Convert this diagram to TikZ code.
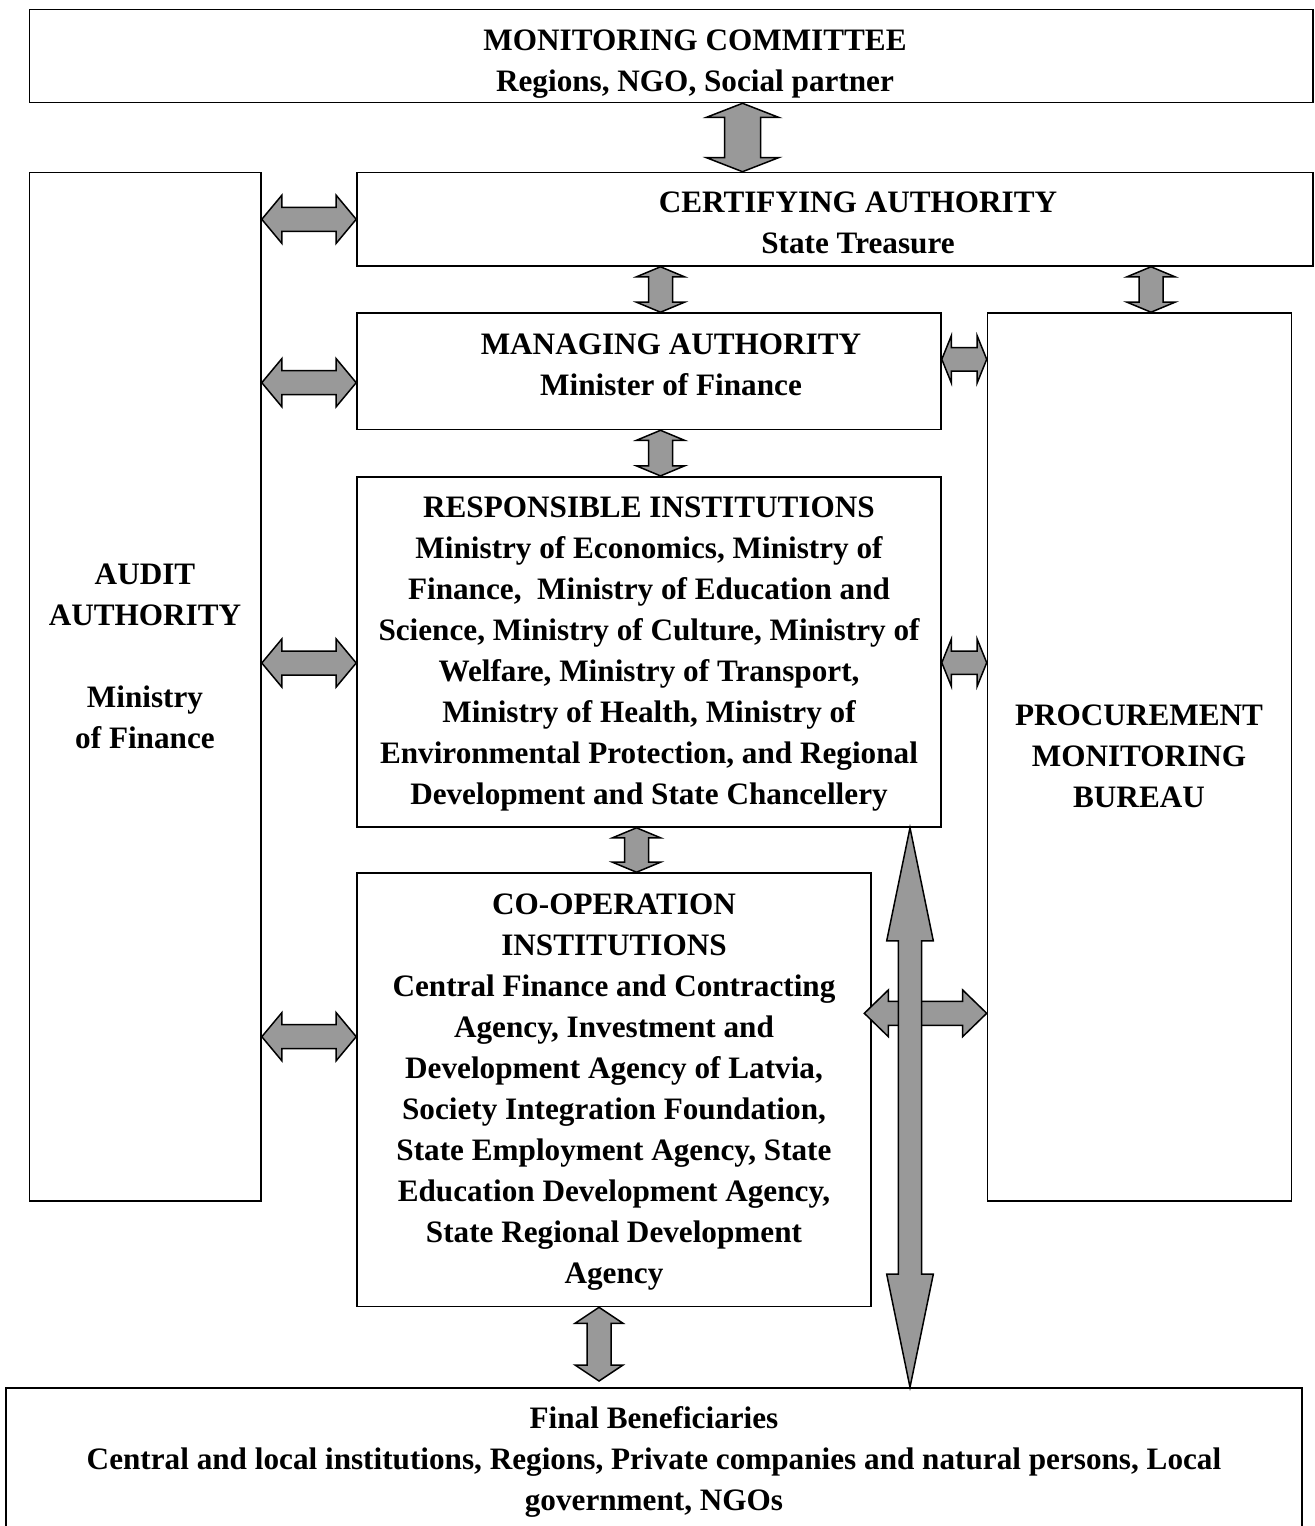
\documentclass[tikz,border=0pt]{standalone}
\usepackage{fontspec}
\setmainfont{Liberation Serif}
\usetikzlibrary{calc}
\definecolor{arrgray}{RGB}{153,153,153}

\begin{document}
\begin{tikzpicture}[x=0.5pt, y=-0.5pt,
	box/.style={draw, line width=0.8pt, inner sep=0pt},
	txt/.style={align=center, inner sep=0pt, font=\bfseries\fontsize{15.6pt}{20.5pt}\selectfont},
	blk/.style={draw, fill=arrgray, line width=0.75pt, line join=miter},
	vblk/.style n args={3}{blk, to path={-- ($(\tikztostart)+(#1,#3)$) -- ($(\tikztostart)+(#2,#3)$) -- ($(\tikztotarget)+(#2,-#3)$) -- ($(\tikztotarget)+(#1,-#3)$) -- (\tikztotarget) -- ($(\tikztotarget)+(-#1,-#3)$) -- ($(\tikztotarget)+(-#2,-#3)$) -- ($(\tikztostart)+(-#2,#3)$) -- ($(\tikztostart)+(-#1,#3)$) -- cycle}},
	hblk/.style n args={3}{blk, to path={-- ($(\tikztostart)+(#3,-#1)$) -- ($(\tikztostart)+(#3,-#2)$) -- ($(\tikztotarget)+(-#3,-#2)$) -- ($(\tikztotarget)+(-#3,-#1)$) -- (\tikztotarget) -- ($(\tikztotarget)+(-#3,#1)$) -- ($(\tikztotarget)+(-#3,#2)$) -- ($(\tikztostart)+(#3,#2)$) -- ($(\tikztostart)+(#3,#1)$) -- cycle}}]

		\useasboundingbox (0,0) rectangle (1314,1526);
		\clip (0,0) rectangle (1314,1526);

		\node [box, minimum width=641.75pt, minimum height=46.5pt] (0) at (671.25, 56) {};
		\node [box, minimum width=115.75pt, minimum height=514.1pt] (1) at (145.25, 686.6) {};
		\node [box, minimum width=478pt, minimum height=46.75pt] (2) at (835, 219.25) {};
		\node [box, minimum width=292pt, minimum height=58.25pt] (3) at (649, 371.25) {};
		\node [box, minimum width=152pt, minimum height=444pt] (4) at (1139.5, 757) {};
		\node [box, minimum width=292pt, minimum height=175.15pt] (5) at (649, 651.85) {};
		\node [box, minimum width=257pt, minimum height=216.75pt] (6) at (614, 1089.75) {};
		\node [box, minimum width=648pt, minimum height=71pt] (7) at (654, 1459) {};
		\node [txt] (9) at (695, 64) {MONITORING COMMITTEE\\Regions, NGO, Social partner};
		\node [txt] (10) at (145, 656) {AUDIT\\AUTHORITY\\[20.5pt]Ministry\\of Finance};
		\node [txt] (11) at (858, 223) {CERTIFYING AUTHORITY\\State Treasure};
		\node [txt] (12) at (671, 364.5) {MANAGING AUTHORITY\\Minister of Finance};
		\node [txt] (13) at (1139, 756) {PROCUREMENT\\MONITORING\\BUREAU};
		\node [txt] (14) at (649, 654) {RESPONSIBLE INSTITUTIONS\\Ministry of Economics, Ministry of\\Finance,~ Ministry of Education and\\Science, Ministry of Culture, Ministry of\\Welfare, Ministry of Transport,\\Ministry of Health, Ministry of\\Environmental Protection, and Regional\\Development and State Chancellery};
		\node [txt] (15) at (614, 1092) {CO-OPERATION\\INSTITUTIONS\\Central Finance and Contracting\\Agency, Investment and\\Development Agency of Latvia,\\Society Integration Foundation,\\State Employment Agency, State\\Education Development Agency,\\State Regional Development\\Agency};
		\node [txt] (16) at (654, 1462) {Final Beneficiaries\\Central and local institutions, Regions, Private companies and natural persons, Local\\government, NGOs};
		\coordinate (17) at (864.3, 1013.3);
		\coordinate (18) at (599, 1381);

		\draw [vblk={36}{18}{14}] (0.south -| 742.5,0) to (2.north -| 742.5,0);
		\draw [vblk={24}{12}{10}] (2.south -| 660.5,0) to (3.north -| 660.5,0);
		\draw [vblk={24}{12}{10}] (2.south -| 1151,0) to (4.north -| 1151,0);
		\draw [vblk={24}{12}{10}] (3.south -| 660.5,0) to (5.north -| 660.5,0);
		\draw [vblk={24}{12}{10}] (5.south -| 636.5,0) to (6.north -| 636.5,0);
		\draw [vblk={24}{12}{16}] (6.south -| 599,0) to (18);
		\draw [hblk={24}{12}{20}] (1.east |- 0,219.3) to (2.west |- 0,219.3);
		\draw [hblk={24}{12}{20}] (1.east |- 0,382.7) to (3.west |- 0,382.7);
		\draw [hblk={24}{12}{20}] (1.east |- 0,663) to (5.west |- 0,663);
		\draw [hblk={24}{12}{20}] (1.east |- 0,1036.7) to (6.west |- 0,1036.7);
		\draw [hblk={23.5}{11.7}{9.5}] (3.east |- 0,359.3) to (4.west |- 0,359.3);
		\draw [hblk={23.5}{11.7}{9.5}] (5.east |- 0,662.7) to (4.west |- 0,662.7);
		\draw [hblk={23.3}{12}{24}] (17) to (4.west |- 0,1013.3);
		\draw [vblk={23.3}{11.7}{113}] (5.south -| 910,0) to (7.north -| 910,0);
\end{tikzpicture}
\end{document}
